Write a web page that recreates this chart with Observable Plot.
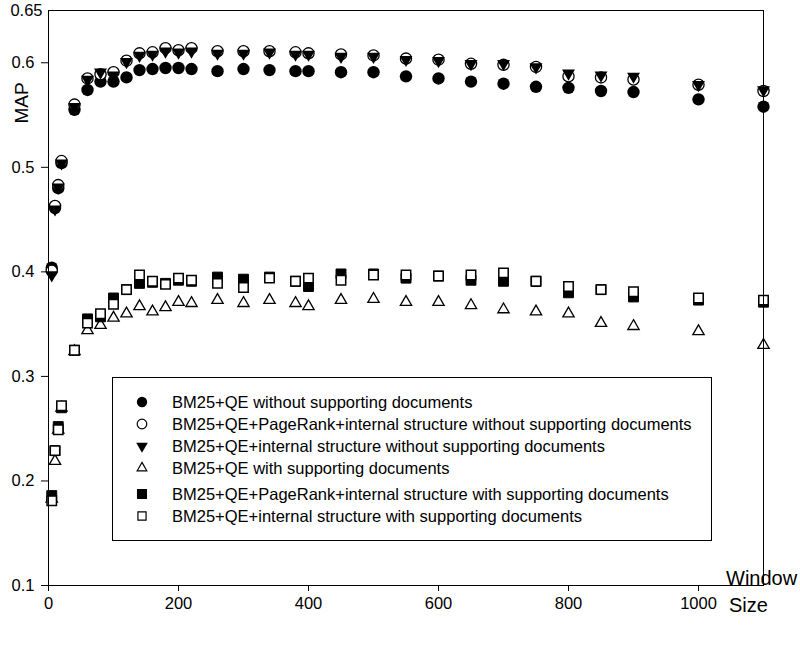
<!DOCTYPE html>
<html>
<head>
<meta charset="utf-8">
<script src="https://cdn.jsdelivr.net/npm/d3@7"></script>
<script src="https://cdn.jsdelivr.net/npm/@observablehq/plot@0.6"></script>
<style>
  html, body { margin: 0; padding: 0; background: white; }
  #chart { position: relative; width: 800px; height: 646px; }
</style>
</head>
<body>
<div id="chart"></div>
<script>
// Window sizes (x)
const windowSizes = [5,10,15,20,40,60,80,100,120,140,160,180,200,220,260,300,340,380,400,450,500,550,600,650,700,750,800,850,900,1000,1100];

// MAP values per series
const bm25qeWithout = [0.404,0.461,0.480,0.504,0.555,0.574,0.582,0.582,0.586,0.593,0.594,0.595,0.595,0.594,0.592,0.594,0.593,0.592,0.592,0.591,0.591,0.587,0.585,0.582,0.580,0.577,0.576,0.573,0.572,0.565,0.558];
const prInternalWithout = [0.401,0.463,0.483,0.506,0.560,0.585,0.589,0.591,0.602,0.609,0.610,0.614,0.612,0.614,0.611,0.611,0.611,0.610,0.609,0.608,0.607,0.604,0.603,0.599,0.598,0.596,0.587,0.586,0.584,0.579,0.573];
const internalWithout = [0.397,0.460,0.481,0.504,0.558,0.584,0.591,0.588,0.601,0.607,0.608,0.611,0.610,0.611,0.609,0.609,0.610,0.608,0.608,0.606,0.606,0.603,0.602,0.599,0.599,0.596,0.590,0.588,0.587,0.579,0.574];
const bm25qeWith = [0.183,0.219,0.249,0.270,0.324,0.344,0.349,0.356,0.360,0.367,0.362,0.366,0.371,0.370,0.373,0.370,0.373,0.370,0.367,0.373,0.374,0.371,0.371,0.368,0.364,0.362,0.360,0.351,0.348,0.343,0.330];
const prInternalWith = [0.186,0.229,0.252,0.270,0.325,0.355,0.357,0.375,0.383,0.389,0.390,0.389,0.392,0.391,0.395,0.393,0.395,0.391,0.386,0.398,0.398,0.394,0.396,0.392,0.391,0.391,0.380,0.383,0.376,0.373,0.371];
const internalWith = [0.181,0.229,0.249,0.272,0.325,0.351,0.360,0.369,0.383,0.397,0.391,0.388,0.394,0.392,0.389,0.385,0.394,0.391,0.394,0.392,0.397,0.397,0.396,0.397,0.399,0.391,0.386,0.383,0.381,0.375,0.373];

const seriesNames = [
  "BM25+QE without supporting documents",
  "BM25+QE+PageRank+internal structure without supporting documents",
  "BM25+QE+internal structure without supporting documents",
  "BM25+QE with supporting documents",
  "BM25+QE+PageRank+internal structure with supporting documents",
  "BM25+QE+internal structure with supporting documents"
];

const yTicks = [0.1, 0.2, 0.3, 0.4, 0.5, 0.6];
const xTicks = [0, 200, 400, 600, 800, 1000];

const toRows = arr => windowSizes.map((x, i) => ({x, y: arr[i]}));

const FONT = "'Liberation Sans', Arial, Helvetica, sans-serif";

const plot = Plot.plot({
  width: 800,
  height: 646,
  marginLeft: 48,
  marginRight: 37,
  marginTop: 10,
  marginBottom: 61,
  style: {fontFamily: FONT, fontSize: "16px", background: "white", color: "black"},
  x: {domain: [0, 1100]},
  y: {domain: [0.1, 0.65]},
  marks: [
    Plot.axisY({ticks: yTicks, tickSize: 7, tickPadding: 7, tickFormat: d => String(d), label: null, fontSize: 16.5}),
    Plot.text([0.65], {frameAnchor: "left", y: d => d, text: d => String(d), textAnchor: "end", dx: -6, fontSize: 16.5}),
    Plot.axisX({ticks: xTicks, tickSize: 6, tickPadding: 6, tickFormat: d => String(d), label: null, fontSize: 16.5}),
    // lower cluster
    Plot.dot(toRows(bm25qeWith), {x: "x", y: "y", symbol: "triangle", r: 4.2, fill: "white", stroke: "black", strokeWidth: 1.3}),
    Plot.dot(toRows(prInternalWith), {x: "x", y: "y", symbol: "square", r: 5.6, fill: "black", stroke: "black", strokeWidth: 1}),
    Plot.dot(toRows(internalWith), {x: "x", y: "y", symbol: "square", r: 5.3, fill: "white", stroke: "black", strokeWidth: 1.5}),
    // upper cluster
    Plot.dot(toRows(bm25qeWithout), {x: "x", y: "y", symbol: "circle", r: 6.2, fill: "black", stroke: "none"}),
    Plot.dot(toRows(prInternalWithout), {x: "x", y: "y", symbol: "circle", r: 5.6, fill: "white", stroke: "black", strokeWidth: 1.3}),
    Plot.dot(toRows(internalWithout), {x: "x", y: "y", symbol: "triangle", rotate: 180, r: 4.8, fill: "black", stroke: "none"}),
    Plot.frame({stroke: "black", strokeWidth: 1})
  ]
});

document.getElementById("chart").appendChild(plot);

// Axis titles and legend
const svg = d3.select(plot);
svg.append("text")
  .attr("transform", "translate(28,103) rotate(-90)")
  .attr("text-anchor", "middle")
  .attr("font-family", FONT)
  .attr("font-size", 19)
  .attr("fill", "black")
  .text("MAP");
svg.append("text").attr("x", 726).attr("y", 585).attr("text-anchor", "start")
  .attr("font-family", FONT).attr("font-size", 20).attr("fill", "black").text("Window");
svg.append("text").attr("x", 729).attr("y", 612).attr("text-anchor", "start")
  .attr("font-family", FONT).attr("font-size", 20).attr("fill", "black").text("Size");

const lg = svg.append("g");
lg.append("rect").attr("x", 112.5).attr("y", 377.5).attr("width", 599).attr("height", 163)
  .attr("fill", "white").attr("stroke", "black").attr("stroke-width", 1);
const rowsY = [402, 424, 446, 468, 494, 516];
const legendSym = [
  {type: d3.symbolCircle, r: 5.2, fill: "black", stroke: "none", rot: 0},
  {type: d3.symbolCircle, r: 4.8, fill: "white", stroke: "black", rot: 0},
  {type: d3.symbolTriangle, r: 4.3, fill: "black", stroke: "none", rot: 180},
  {type: d3.symbolTriangle, r: 3.6, fill: "white", stroke: "black", rot: 0},
  {type: d3.symbolSquare, r: 5, fill: "black", stroke: "black", rot: 0},
  {type: d3.symbolSquare, r: 4.6, fill: "white", stroke: "black", rot: 0}
];
seriesNames.forEach((name, i) => {
  const s = legendSym[i];
  lg.append("path")
    .attr("d", d3.symbol(s.type, Math.PI * s.r * s.r)())
    .attr("transform", `translate(142,${rowsY[i]}) rotate(${s.rot})`)
    .attr("fill", s.fill).attr("stroke", s.stroke).attr("stroke-width", 1.2);
  lg.append("text").attr("x", 172).attr("y", rowsY[i]).attr("dy", "0.35em")
    .attr("text-anchor", "start")
    .attr("font-family", FONT).attr("font-size", 16.5).attr("fill", "black").text(name);
});
</script>
</body>
</html>
